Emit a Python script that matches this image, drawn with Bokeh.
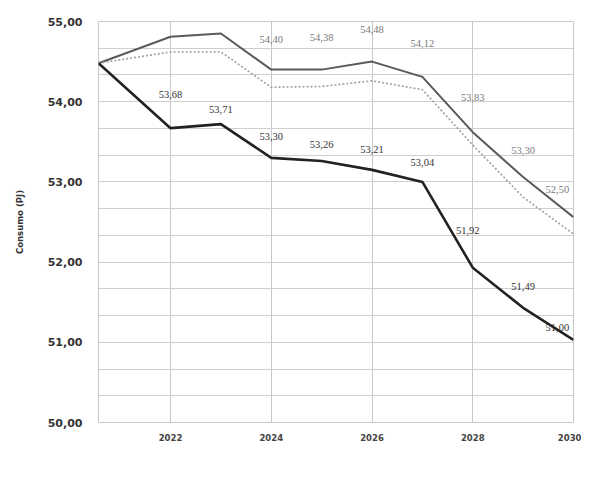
import numpy as np
from bokeh.plotting import figure
from bokeh.models import (ColumnDataSource, FixedTicker, Range1d, Legend, LegendItem, LabelSet)
from bokeh.embed import file_html
from bokeh.resources import INLINE

# ---- data ----
years = [2020.57, 2022, 2023, 2024, 2025, 2026, 2027, 2028, 2029, 2030]
tendencia = [54.48, 54.81, 54.85, 54.40, 54.40, 54.50, 54.31, 53.62, 53.06, 52.56]
buenas = [54.48, 54.62, 54.62, 54.18, 54.19, 54.26, 54.15, 53.46, 52.81, 52.35]
cambio = [54.48, 53.67, 53.72, 53.30, 53.26, 53.15, 53.00, 51.93, 51.43, 51.03]

tend_lbl_x = [2024, 2025, 2026, 2027, 2028, 2029, 2029.68]
tend_lbl_y = [54.78, 54.80, 54.90, 54.73, 54.05, 53.39, 52.90]
tend_lbl_text = ["54,40", "54,38", "54,48", "54,12", "53,83", "53,30", "52,50"]

camb_lbl_x = [2022, 2023, 2024, 2025, 2026, 2027, 2027.9, 2029, 2029.68]
camb_lbl_y = [54.09, 53.90, 53.56, 53.47, 53.40, 53.24, 52.40, 51.69, 51.19]
camb_lbl_text = ["53,68", "53,71", "53,30", "53,26", "53,21", "53,04", "51,92", "51,49", "51,00"]

x_ticks = [2022, 2024, 2026, 2028, 2030]
y_ticks = [50, 51, 52, 53, 54, 55]
y_tick_labels = ["50,00", "51,00", "52,00", "53,00", "54,00", "55,00"]
series_names = ["Tendencia", "Buenas prácticas", "Cambio tecnológico"]
y_label = "Consumo (PJ)"

FONT = "DejaVu Sans"

p = figure(width=581, height=477, frame_width=475, frame_height=401,
           output_backend="svg", toolbar_location=None,
           x_range=Range1d(years[0], x_ticks[-1]), y_range=Range1d(y_ticks[0], y_ticks[-1]),
           min_border_left=98, min_border_right=8, min_border_top=21, min_border_bottom=0)

p.background_fill_color = "white"
p.border_fill_color = "white"
p.outline_line_color = "#c8c8c8"

# grids
p.xgrid.ticker = FixedTicker(ticks=x_ticks)
p.xgrid.grid_line_color = "#c8c8c8"
p.ygrid.ticker = FixedTicker(ticks=list(np.linspace(y_ticks[0], y_ticks[-1], 16)))
p.ygrid.grid_line_color = "#cfcfcf"

# axes
p.xaxis.ticker = FixedTicker(ticks=x_ticks)
p.yaxis.ticker = FixedTicker(ticks=y_ticks)
p.yaxis.major_label_overrides = {t: l for t, l in zip(y_ticks, y_tick_labels)}
for ax in (p.xaxis[0], p.yaxis[0]):
    ax.axis_line_color = None
    ax.major_tick_line_color = None
    ax.minor_tick_line_color = None
    ax.major_tick_out = 0
    ax.major_tick_in = 0
    ax.minor_tick_out = 0
    ax.minor_tick_in = 0
    ax.major_label_text_font = FONT
    ax.major_label_text_font_style = "bold"
p.yaxis.major_label_text_font_size = "11px"
p.yaxis.major_label_text_color = "#333333"
p.yaxis.major_label_standoff = 16
p.xaxis.major_label_text_font_size = "8.5px"
p.xaxis.major_label_text_color = "#444444"
p.xaxis.major_label_standoff = 11
p.yaxis.axis_label = y_label
p.yaxis.axis_label_text_font = FONT
p.yaxis.axis_label_text_font_size = "8.5px"
p.yaxis.axis_label_text_font_style = "bold"
p.yaxis.axis_label_text_color = "#333333"
p.yaxis.axis_label_standoff = 20

src = ColumnDataSource(dict(x=years, t=tendencia, b=buenas, c=cambio))
r1 = p.line("x", "t", source=src, line_color="#5a5a5a", line_width=2)
r2 = p.line("x", "b", source=src, line_color="#a0a0a0", line_width=1.6, line_dash="2 2")
r3 = p.line("x", "c", source=src, line_color="#222222", line_width=2.6)

tsrc = ColumnDataSource(dict(x=tend_lbl_x, y=tend_lbl_y, text=tend_lbl_text))
csrc = ColumnDataSource(dict(x=camb_lbl_x, y=camb_lbl_y, text=camb_lbl_text))
p.add_layout(LabelSet(x="x", y="y", text="text", source=tsrc, text_align="center",
                      text_baseline="middle", text_font=FONT, text_font_size="10.5px",
                      text_color="#7a7a7a"))
p.add_layout(LabelSet(x="x", y="y", text="text", source=csrc, text_align="center",
                      text_baseline="middle", text_font=FONT, text_font_size="10.5px",
                      text_color="#333333"))

legend = Legend(items=[LegendItem(label=series_names[0], renderers=[r1]),
                       LegendItem(label=series_names[1], renderers=[r2]),
                       LegendItem(label=series_names[2], renderers=[r3])],
                orientation="horizontal", location="bottom_left",
                label_text_font=FONT, label_text_font_size="12px", label_text_color="#555555",
                glyph_width=16, glyph_height=12, label_height=12, label_standoff=6, spacing=14,
                padding=0, margin=5, border_line_color=None, background_fill_alpha=0)
p.add_layout(legend, "below")

open("out.html", "w").write(file_html(p, INLINE))
